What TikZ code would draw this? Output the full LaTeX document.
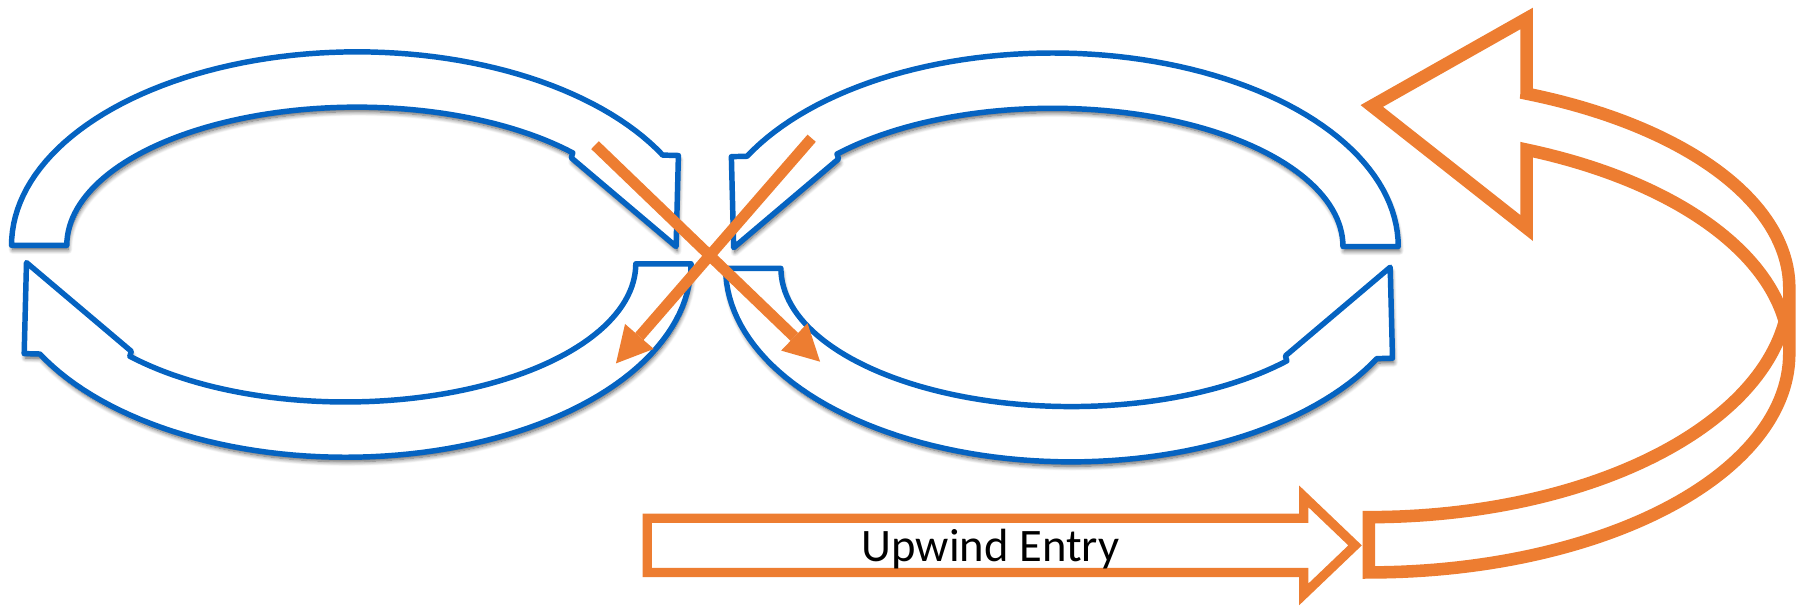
\documentclass[tikz,border=0pt]{standalone}
\usepackage{fontspec}
\setmainfont{Carlito}
\usetikzlibrary{arrows.meta,shadows.blur}

\definecolor{loopblue}{HTML}{0563C1}
\definecolor{wind}{HTML}{ED7D31}

\tikzset{
  band/.style={draw=loopblue, fill=white, line width=1.35pt, line join=round,
    blur shadow={shadow xshift=0.3pt, shadow yshift=-1.1pt,
                 shadow blur radius=1.1pt, shadow blur steps=8, shadow opacity=65}},
  ribbon/.style={draw=wind, fill=white, line width=3.1pt, line join=miter},
  entrybox/.style={draw=wind, fill=white, line width=2.3pt, line join=miter},
  cross/.style={draw=wind, line width=2.7pt,
    -{Triangle[length=3.1mm, width=3.3mm, line width=0pt]}},
  label/.style={font=\fontsize{11.5}{13}\selectfont, inner sep=0pt, anchor=base},
}

% Curved half-loop arrow: #1,#2 centre of its ellipse, #3,#4 mirror factors (+1/-1)
\newcommand\loopband[4]{%
  \path[band]
    plot[domain=180:332.2, samples=72] ({#1+(#3)*300*cos(\x)}, {#2+(#4)*168*sin(\x)})
    -- ({#1+(#3)*279}, {#2-(#4)*78})
    -- ({#1+(#3)*277}, {#2+(#4)*1})
    -- ({#1+(#3)*186}, {#2-(#4)*76})
    -- plot[domain=318:180, samples=72] ({#1+(#3)*252*cos(\x)}, {#2+(#4)*120*sin(\x)})
    -- cycle;}

\begin{document}
\begin{tikzpicture}[x=0.1mm, y=-0.1mm]
  \useasboundingbox (0,0) rectangle (1568,530);

  % the four blue half-loops of the figure eight
  \loopband{310}{213}{1}{1}
  \loopband{914}{214}{-1}{1}
  \loopband{300}{229}{-1}{-1}
  \loopband{930}{233}{1}{-1}

  % crossing arrows in the middle
  \coordinate (a1) at (516.6,126);
  \coordinate (a2) at (712,314);
  \coordinate (b1) at (704.7,120);
  \coordinate (b2) at (534.8,315.5);
  \draw[cross] (a1) -- (a2);
  \draw[cross] (b1) -- (b2);

  % orange U-turn ribbon on the right
  \path[ribbon] (1191,92) -- (1325.5,16) -- (1325.5,81)
    -- plot[domain=-67.96:0, samples=60] ({1188.5+365*cos(\x)}, {250+182*sin(\x)})
    -- (1553.5,307)
    -- plot[domain=0:90, samples=60] ({1188.5+365*cos(\x)}, {307+190*sin(\x)})
    -- (1188.5,449)
    -- plot[domain=90:8.67, samples=60] ({1188.5+365*cos(\x)}, {250+199*sin(\x)})
    -- plot[domain=-8.13:-67.96, samples=60] ({1188.5+365*cos(\x)}, {307+191*sin(\x)})
    -- (1325.5,198) -- cycle;

  % entry arrow
  \path[entrybox] (562,450) -- (1132,450) -- (1132,431) -- (1176.5,473.5)
    -- (1132,516) -- (1132,497) -- (562,497) -- cycle;
  \node[label] (entry) at (860,487.6) {Upwind Entry};
\end{tikzpicture}
\end{document}
